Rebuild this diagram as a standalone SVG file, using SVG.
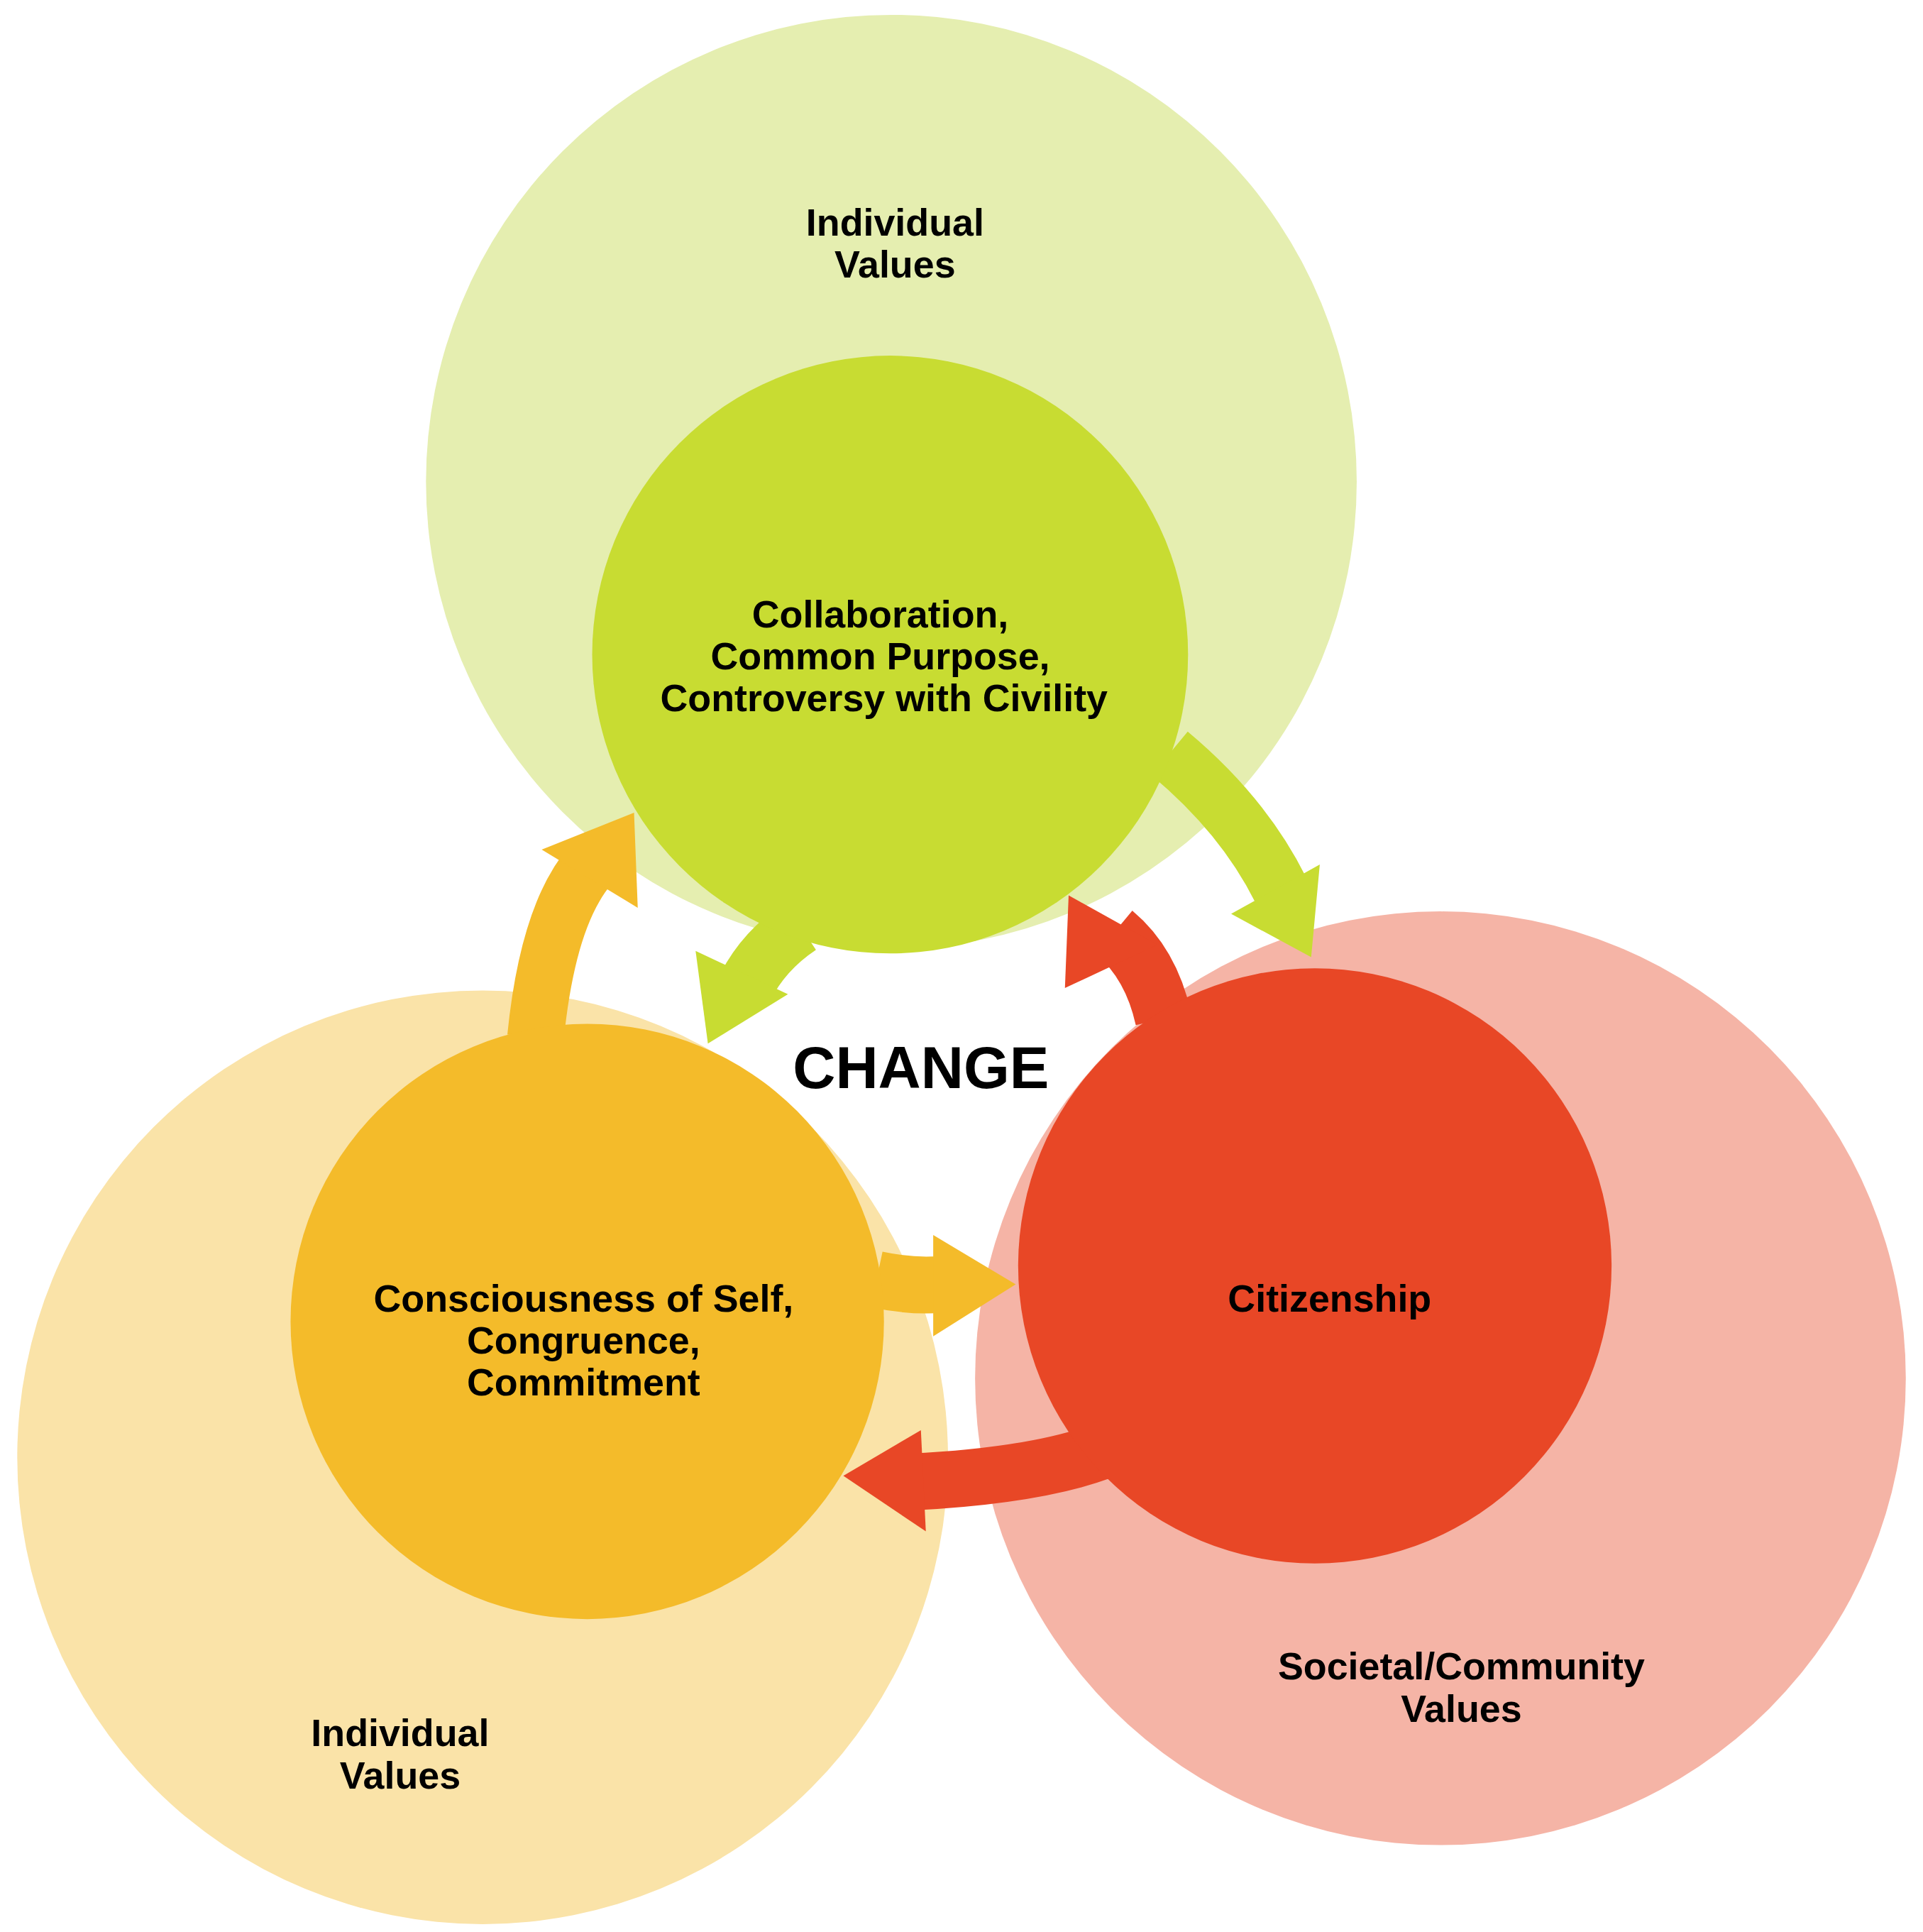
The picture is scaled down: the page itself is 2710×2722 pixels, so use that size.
<svg xmlns="http://www.w3.org/2000/svg" width="2710" height="2722" viewBox="0 0 2710 2722">
<style>
.t{font-family:"Liberation Sans",Arial,sans-serif;font-weight:bold;font-size:31px;fill:#000;text-anchor:middle}
.g{fill:none;stroke:#c8dc32;stroke-width:46}
.o{fill:none;stroke:#f4bb2a;stroke-width:46}
.r{fill:none;stroke:#e84726;stroke-width:46}
</style>
<rect width="2710" height="2722" fill="#fff"/>
<g transform="scale(1.735,1.74)">
<g id="outer-top"><circle cx="724" cy="390" r="378" fill="#e5eeb0"/></g>
<g id="outer-left"><circle cx="392" cy="1180" r="378" fill="#fae3a8"/></g>
<g id="outer-right"><circle cx="1170" cy="1116" r="378" fill="#f5b4a6"/></g>
<g id="connectors">
<path class="o" d="M435,840 Q445,740 480,700"/><polygon points="440,688 515,658 518,735" fill="#f4bb2a"/>
<path class="o" d="M712,1036 Q740,1042 765,1040"/><polygon points="758,1000 825,1040 758,1082" fill="#f4bb2a"/>
<path class="g" d="M950,610 Q1010,660 1040,720"/><polygon points="1000,740 1065,775 1072,700" fill="#c8dc32"/>
<path class="g" d="M650,750 Q620,770 605,800"/><polygon points="565,770 575,845 640,805" fill="#c8dc32"/>
<path class="r" d="M945,825 Q935,780 905,755"/><polygon points="865,800 868,725 940,765" fill="#e84726"/>
<path class="r" d="M895,1175 Q840,1195 740,1200"/><polygon points="748,1158 685,1195 752,1240" fill="#e84726"/>
</g>
<g id="inner-top"><circle cx="723" cy="530" r="242" fill="#c8dc32"/>
<text class="t" x="715" y="508">Collaboration,</text><text class="t" x="715" y="542">Common Purpose,</text><text class="t" x="718" y="576">Controversy with Civility</text></g>
<g id="inner-left"><circle cx="477" cy="1070" r="241" fill="#f4bb2a"/>
<text class="t" x="474" y="1062">Consciousness of Self,</text><text class="t" x="474" y="1096">Congruence,</text><text class="t" x="474" y="1130">Commitment</text></g>
<g id="inner-right"><circle cx="1068" cy="1025" r="241" fill="#e84726"/>
<text class="t" x="1080" y="1062">Citizenship</text></g>
<g id="labels">
<text class="t" x="727" y="191">Individual</text><text class="t" x="727" y="225">Values</text>
<text class="t" x="325" y="1414">Individual</text><text class="t" x="325" y="1448">Values</text>
<text class="t" x="1187" y="1360">Societal/Community</text><text class="t" x="1187" y="1394">Values</text>
<text class="t" x="748" y="881" style="font-size:48px">CHANGE</text>
</g>
</g>
</svg>
